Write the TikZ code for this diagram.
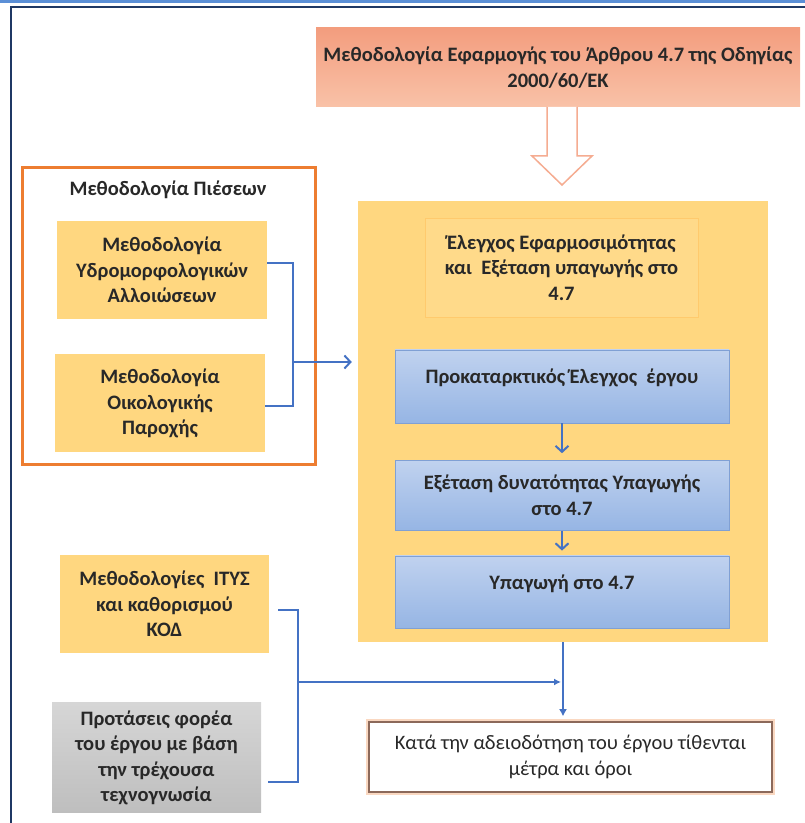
\documentclass[tikz,border=0pt]{standalone}
\usepackage{fontspec}
\setmainfont{Carlito}
\usetikzlibrary{calc,positioning,arrows.meta}
\definecolor{txtgray}{RGB}{40,40,40}
\definecolor{gold}{RGB}{255,215,128}
\definecolor{goldlt}{RGB}{255,218,138}
\definecolor{pressor}{RGB}{237,125,49}
\definecolor{salmtop}{RGB}{243,157,126}
\definecolor{salmbot}{RGB}{249,194,168}
\definecolor{bluetop}{RGB}{192,210,239}
\definecolor{bluebot}{RGB}{150,181,228}
\definecolor{bluebord}{RGB}{128,160,212}
\definecolor{linkblue}{RGB}{68,114,196}
\definecolor{navy}{RGB}{31,56,100}
\definecolor{skyline}{RGB}{91,143,214}
\tikzset{%
  font=\fontsize{20.5}{25.5}\selectfont\bfseries, >={Straight Barb[length=6pt,width=13pt]},
  txt/.style    = {align=center, text=txtgray, inner sep=0pt},
  hdr/.style    = {txt, rectangle, top color=salmtop, bottom color=salmbot, minimum width=484pt, minimum height=79pt},
  grp/.style    = {draw=pressor, line width=3pt, minimum width=293pt, minimum height=297pt},
  meth/.style   = {txt, fill=gold, minimum width=210pt, minimum height=98pt},
  cont/.style   = {fill=gold, minimum width=410pt, minimum height=441pt},
  stage/.style  = {txt, draw=bluebord, top color=bluetop, bottom color=bluebot, minimum width=334pt, minimum height=72pt},
  link/.style   = {draw=linkblue, line width=2pt},
  hollow/.style = {draw=salmtop!85!white, line width=1.5pt, fill=white, line join=miter}
}
\begin{document}
\begin{tikzpicture}[x=1pt,y=1pt,
	upper/.style={text depth=20pt},%
	fin/.style={txt,font=\fontsize{20.5}{25.5}\selectfont,draw={rgb,255:red,140;green,105;blue,90},line width=1.5pt,%
		preaction={draw=pressor!30,line width=6pt},fill=white,minimum width=403pt,minimum height=70pt},%
	grey/.style={txt,top color={rgb,255:red,214;green,214;blue,214},bottom color={rgb,255:red,190;green,190;blue,190},%
		minimum width=209pt,minimum height=110pt}]
	\useasboundingbox (0,0) rectangle (805,823);
	% frame
	\draw[skyline,line width=3pt] (0,821) -- (805,821);
	\draw[navy,line width=2.5pt] (11,0) -- (11,816) -- (805,816);
	% header and hollow arrow
	\node[hdr] (top) at (558,755.5) {Μεθοδολογία Εφαρμογής του Άρθρου 4.7 της Οδηγίας\\2000/60/ΕΚ};
	\coordinate (atip) at (562,638);
	\draw[hollow] (atip) ++(-15,78) -- ++(0,-49) -- ++(-15,0) -- (atip) -- ++(30,29) -- ++(-15,0) -- ++(0,49);
	% pressures
	\node[grp] (press) at (168.5,506.5) {};
	\node[txt] (ptitle) at (168,633) {Μεθοδολογία Πιέσεων};
	\node[meth] (hymo) at (162,553) {Μεθοδολογία\\Υδρομορφολογικών\\Αλλοιώσεων};
	\node[meth] (eco) at (160,419.5) {Μεθοδολογία\\Οικολογικής\\Παροχής};
	% main container
	\node[cont] (main) at (563,401.5) {};
	\node[txt,fill=goldlt,draw=gold!85!orange,minimum width=273pt,minimum height=99pt] (chk) at (561.5,555.5)
		{Έλεγχος Εφαρμοσιμότητας\\και\ \ Εξέταση υπαγωγής στο\\4.7};
	\node[stage,upper,minimum height=73pt] (pre) at (562,436.5) {Προκαταρκτικός Έλεγχος\ \ έργου};
	\node[stage,minimum height=70pt,below=37pt of pre] (feas) {Εξέταση δυνατότητας Υπαγωγής\\στο 4.7};
	\node[stage,upper,below=25pt of feas] (sub) {Υπαγωγή στο 4.7};
	\draw[link,->,shorten >=7pt] (pre) -- (feas);
	\draw[link,->,shorten >=5pt] (feas) -- (sub);
	% bottom
	\node[meth,minimum width=209pt] (itys) at (164.5,219) {Μεθοδολογίες\ \ ΙΤΥΣ\\και καθορισμού\\ΚΟΔ};
	\node[grey] (prop) at (156.5,65) {Προτάσεις φορέα\\του έργου με βάση\\την τρέχουσα\\τεχνογνωσία};
	\node[fin] (final) at (570.5,66) {Κατά την αδειοδότηση του έργου τίθενται\\μέτρα και όροι};
	% connectors
	\coordinate (jn1) at (293,461);
	\draw[link] ([yshift=7pt]hymo.east) -| (jn1) |- ([yshift=-3pt]eco.east);
	\draw[link,->,shorten >=6pt] (jn1) -- (jn1 -| main.west);
	\coordinate (jn2) at (298,141);
	\draw[link,line width=1.6pt] ([xshift=9pt,yshift=-6pt]itys.east) -| (jn2) |- ([xshift=7pt,yshift=-24pt]prop.east);
	\draw[link,line width=1.6pt,-{Latex[length=7pt,width=7pt]},shorten >=2pt] (jn2) -- (jn2 -| main.south);
	\draw[link,-{Latex[length=7pt,width=8pt]},shorten >=5pt] (main.south) -- (main.south |- final.north);
\end{tikzpicture}
\end{document}
